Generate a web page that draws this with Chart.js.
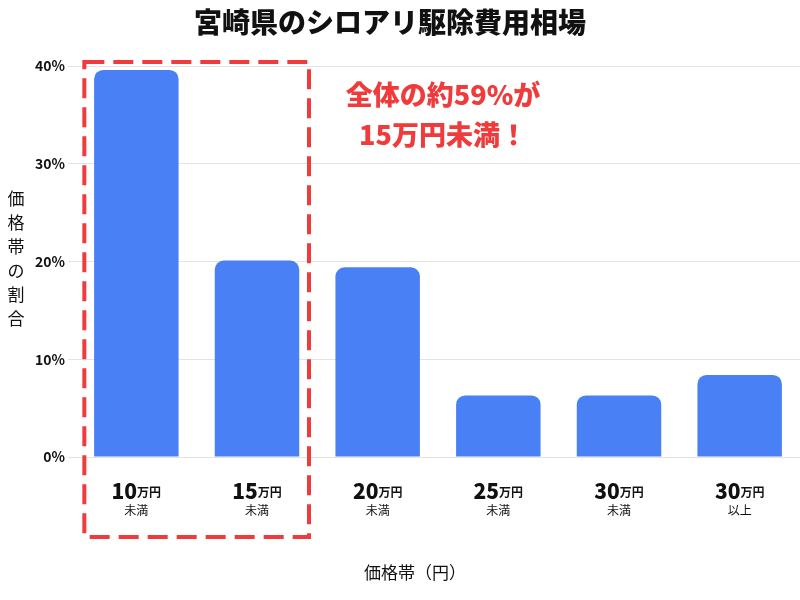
<!DOCTYPE html>
<html><head><meta charset="utf-8">
<script src="https://cdn.jsdelivr.net/npm/chart.js@4/dist/chart.umd.min.js"></script>
<style>body{margin:0;background:#fff}#wrap{width:800px;height:600px}</style>
</head><body><div id="wrap"><canvas id="c" width="800" height="600"></canvas></div>
<script>
// データ：宮崎県のシロアリ駆除費用相場
var priceNums = ['10', '15', '20', '25', '30', '30'];
var priceSubs = ['未満', '未満', '未満', '未満', '未満', '以上'];
var shares = [39.6, 20.1, 19.4, 6.3, 6.3, 8.4];
var yTicks = [0, 10, 20, 30, 40];

var FONT = '"Noto Sans CJK JP", "Noto Sans", sans-serif';

// ── 独自描画：タイトル・軸ラベル・枠・注記 ──
var decor = {
  id: 'decor',
  afterDraw: function (chart) {
    var ctx = chart.ctx, x = chart.scales.x;
    ctx.save();
    ctx.fillStyle = '#111';
    ctx.textAlign = 'center'; ctx.textBaseline = 'middle';
    ctx.font = '900 28px ' + FONT;
    ctx.fillText('宮崎県のシロアリ駆除費用相場', 390, 22);

    // x tick labels
    priceNums.forEach(function (n, i) {
      var cx = x.getPixelForValue(i);
      ctx.font = '900 21px ' + FONT;
      var w1 = ctx.measureText(n).width;
      ctx.font = 'bold 12px ' + FONT;
      var w2 = ctx.measureText('万円').width;
      var sx = cx - (w1 + w2) / 2;
      ctx.textAlign = 'left'; ctx.textBaseline = 'alphabetic';
      ctx.font = '900 21px ' + FONT; ctx.fillText(n, sx, 499);
      ctx.font = 'bold 12px ' + FONT; ctx.fillText('万円', sx + w1, 497);
      ctx.textAlign = 'center';
      ctx.font = '12px ' + FONT; ctx.fillText(priceSubs[i], cx, 515);
    });

    // axis titles
    ctx.font = '17px ' + FONT; ctx.textBaseline = 'middle';
    ctx.fillText('価格帯（円）', 415, 573);
    '価格帯の割合'.split('').forEach(function (ch, i) {
      ctx.fillText(ch, 16, 199 + i * 24);
    });

    // dashed highlight box
    ctx.strokeStyle = '#ef3b3b'; ctx.lineWidth = 4; ctx.setLineDash([20, 9]);
    var x0 = x.getPixelForValue(0) - 52, x1 = x.getPixelForValue(1) + 52;
    ctx.strokeRect(x0, 62, x1 - x0, 475);
    ctx.setLineDash([]);

    ctx.fillStyle = '#ef3b3b'; ctx.font = '900 27px ' + FONT;
    ctx.fillText('全体の約59%が', 443, 95);
    ctx.fillText('15万円未満！', 443, 135);
    ctx.restore();
  }
};

new Chart(document.getElementById('c'), {
  type: 'bar',
  data: {
    labels: priceNums.map(function (n, i) { return n + '万円' + priceSubs[i]; }),
    datasets: [{
      data: shares, backgroundColor: '#4a80f5',
      borderRadius: { topLeft: 9, topRight: 9 }, borderSkipped: 'bottom',
      barPercentage: 0.7, categoryPercentage: 1
    }]
  },
  options: {
    responsive: false, animation: false,
    layout: { padding: { left: 32, right: 0, top: 66, bottom: 135 } },
    plugins: { legend: { display: false }, tooltip: { enabled: false } },
    scales: {
      x: { grid: { display: false }, border: { display: false }, ticks: { display: false } },
      y: {
        min: 0, max: 40, afterBuildTicks: function (s) { s.ticks = yTicks.map(function (v) { return { value: v }; }); },
        border: { display: false },
        grid: { color: '#e3e3e3' },
        ticks: { color: '#111', font: { family: FONT, size: 14, weight: 'bold' }, callback: function (v) { return v + '%'; } }
      }
    }
  },
  plugins: [decor]
});
</script></body></html>
